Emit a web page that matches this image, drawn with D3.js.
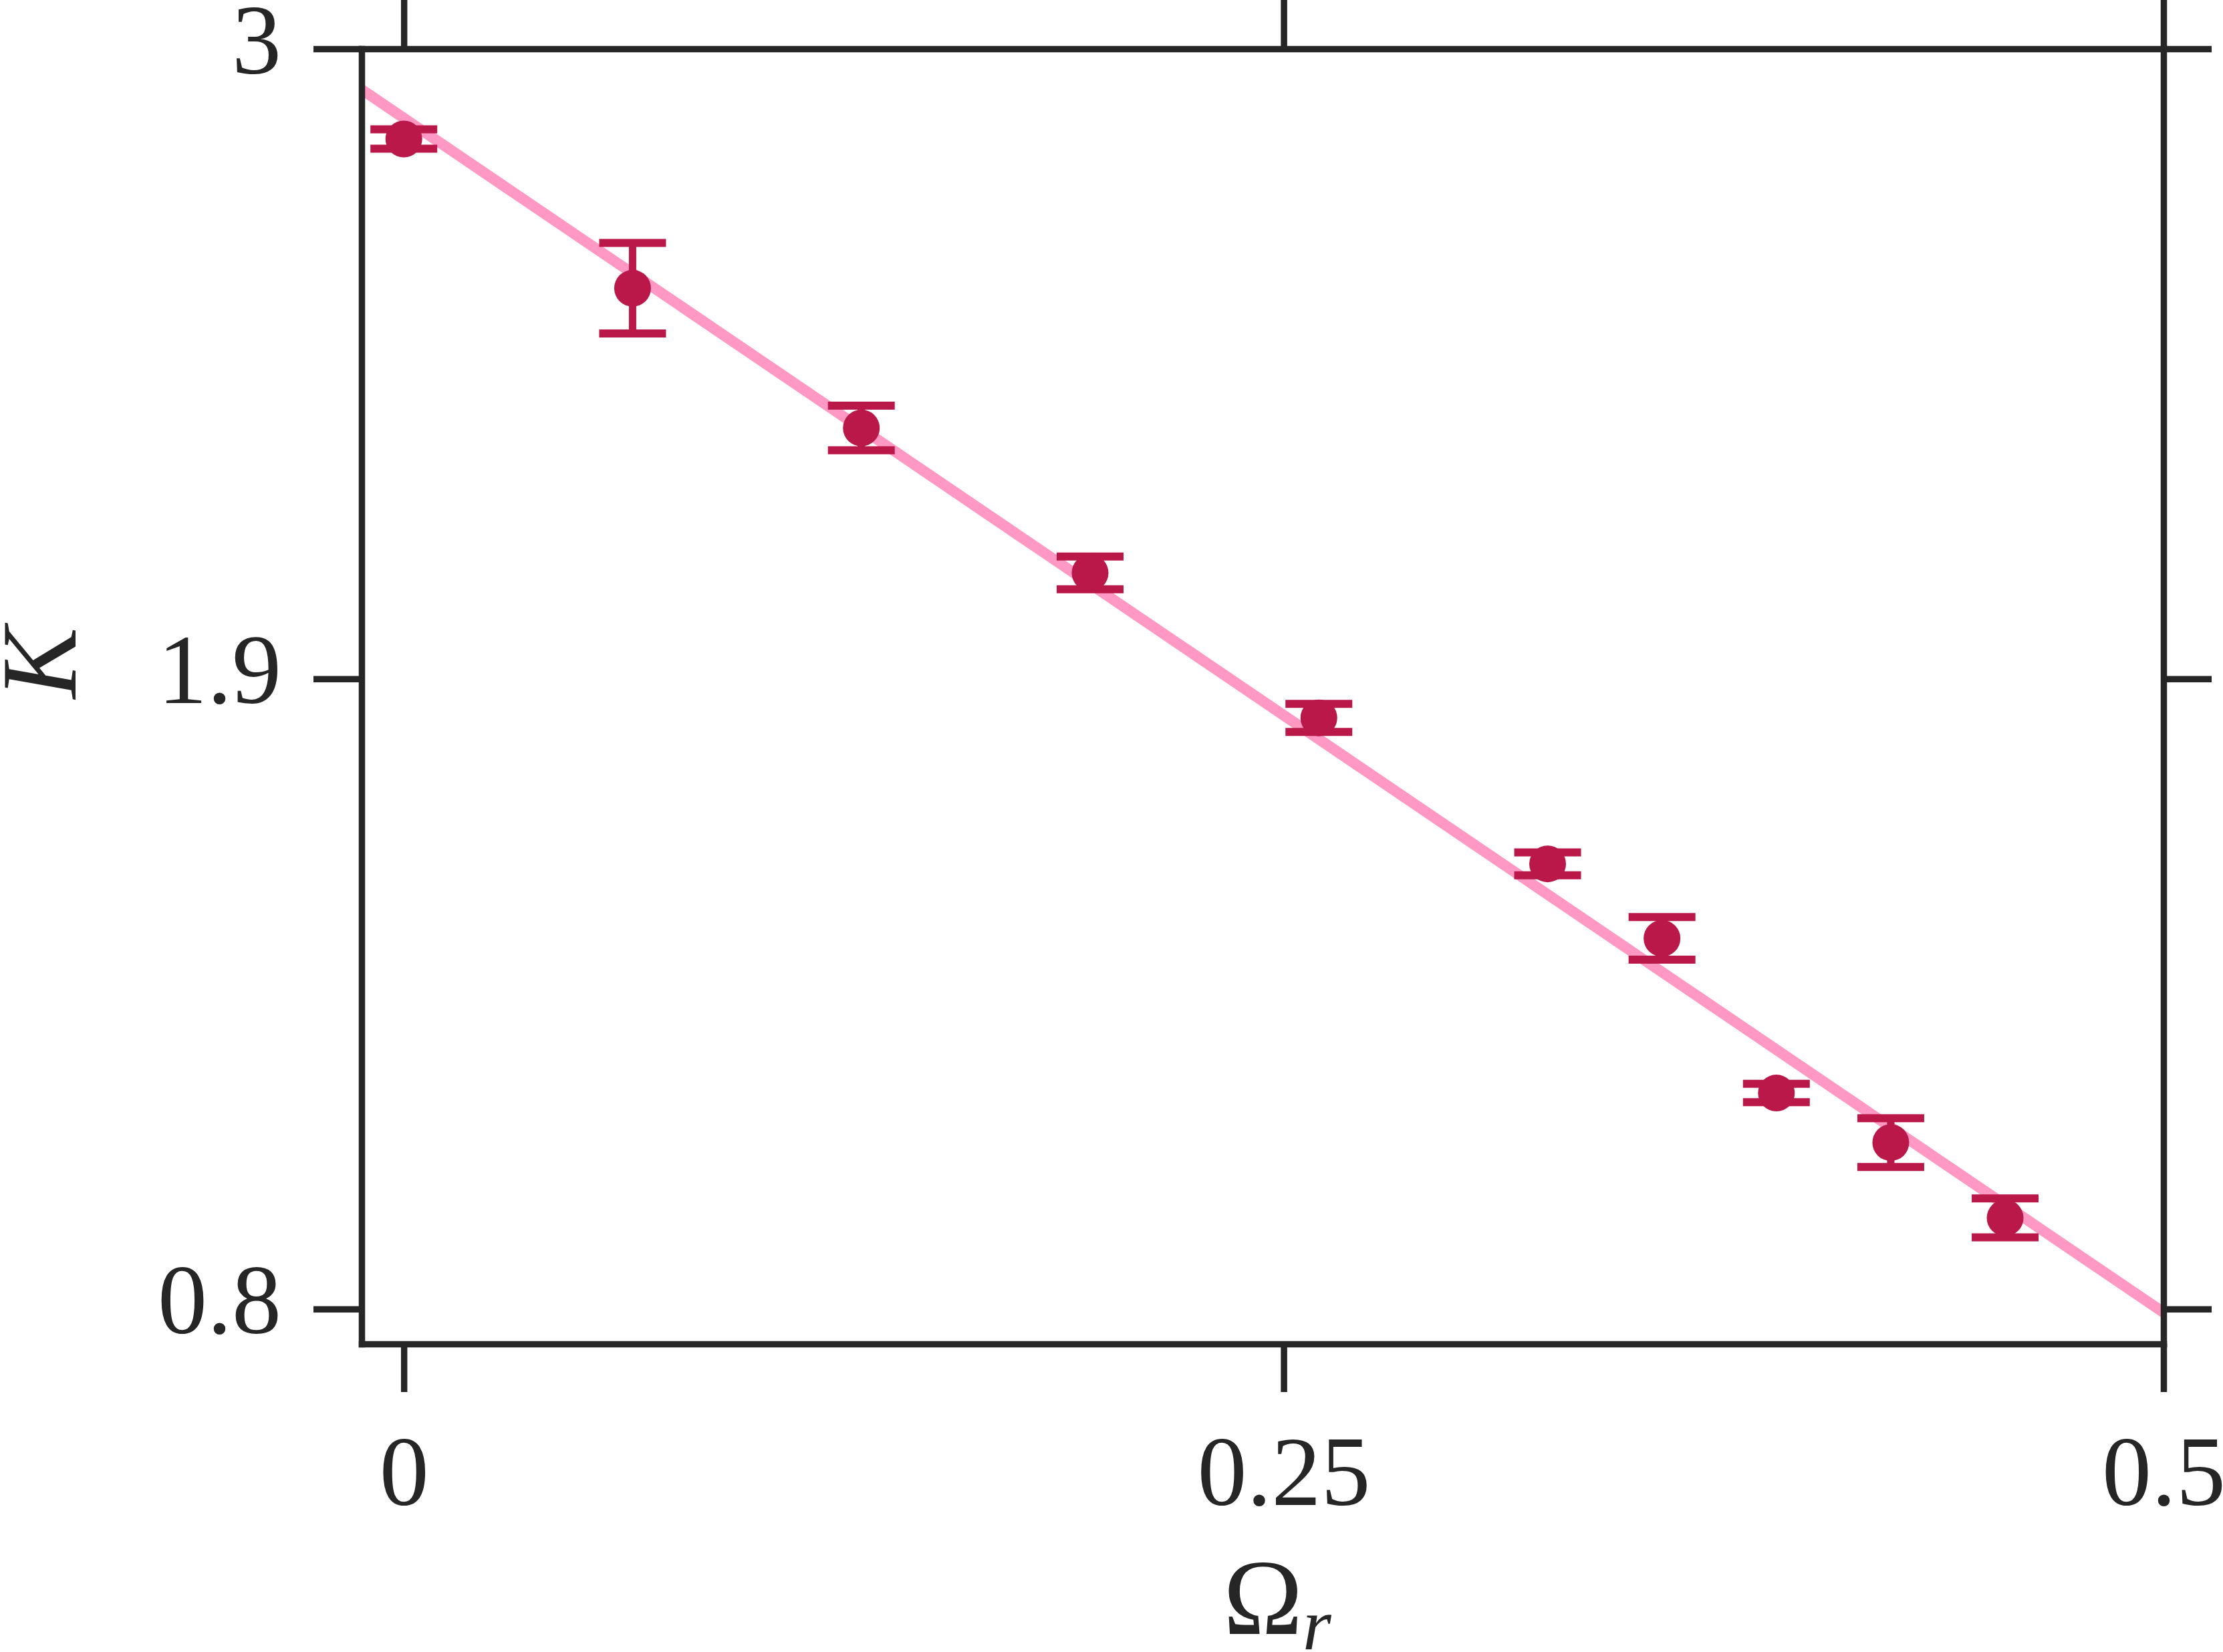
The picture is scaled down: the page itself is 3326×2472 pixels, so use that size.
<!DOCTYPE html>
<html>
<head>
<meta charset="utf-8">
<script src="https://cdn.jsdelivr.net/npm/d3@7"></script>
<style>
  html, body { margin: 0; padding: 0; background: #ffffff; }
  svg { display: block; }
</style>
</head>
<body>
<script>
// ---- data ----
const omega = [0, 0.065, 0.130, 0.195, 0.260, 0.325, 0.3575, 0.390, 0.4225, 0.455];
const kappa = [2.8425, 2.582, 2.338, 2.085, 1.832, 1.577, 1.447, 1.177, 1.0905, 0.959];
const kappaErr = [0.017, 0.079, 0.039, 0.0286, 0.0245, 0.020, 0.0373, 0.016, 0.0426, 0.034];
const fitOmega = [-0.012, 0.5];
const fitKappa = [2.929, 0.794];
const xDomain = [-0.012, 0.5];
const yDomain = [0.739, 3];
const xTicks = [0, 0.25, 0.5];
const xTickLabels = ["0", "0.25", "0.5"];
const yTicks = [0.8, 1.9, 3];
const yTickLabels = ["0.8", "1.9", "3"];
const xLabel = "Ω";
const xLabelSub = "r";
const yLabel = "K";

// ---- layout ----
const W = 3326, H = 2472;
const L = 541, R = 3237, T = 73, B = 2011;
const axisColor = "#262626";
const markerColor = "#BA1848";
const fitColor = "#FF99C4";
const font = "'Liberation Serif', 'DejaVu Serif', serif";

const svg = d3.select("body").append("svg")
  .attr("width", W).attr("height", H)
  .attr("viewBox", `0 0 ${W} ${H}`);
svg.append("rect").attr("width", W).attr("height", H).attr("fill", "#ffffff");

const x = d3.scaleLinear().domain(xDomain).range([L, R]);
const y = d3.scaleLinear().domain(yDomain).range([B, T]);

// clip to plot box
svg.append("clipPath").attr("id", "box")
  .append("rect").attr("x", L).attr("y", T).attr("width", R - L).attr("height", B - T);

// ---- fit line ----
const fitData = fitOmega.map((o, i) => ({ o, k: fitKappa[i] }));
svg.append("path")
  .datum(fitData)
  .attr("clip-path", "url(#box)")
  .attr("fill", "none")
  .attr("stroke", fitColor)
  .attr("stroke-width", 16)
  .attr("d", d3.line().x(d => x(d.o)).y(d => y(d.k)));

// ---- error bars + markers ----
const pts = omega.map((o, i) => ({ o, k: kappa[i], e: kappaErr[i] }));
const g = svg.append("g");
const capW = 100, capT = 12;
g.selectAll("line.stem").data(pts).enter().append("line")
  .attr("class", "stem")
  .attr("x1", d => x(d.o)).attr("x2", d => x(d.o))
  .attr("y1", d => y(d.k + d.e)).attr("y2", d => y(d.k - d.e))
  .attr("stroke", markerColor).attr("stroke-width", 11);
g.selectAll("line.capt").data(pts).enter().append("line")
  .attr("class", "capt")
  .attr("x1", d => x(d.o) - capW / 2).attr("x2", d => x(d.o) + capW / 2)
  .attr("y1", d => y(d.k + d.e)).attr("y2", d => y(d.k + d.e))
  .attr("stroke", markerColor).attr("stroke-width", capT);
g.selectAll("line.capb").data(pts).enter().append("line")
  .attr("class", "capb")
  .attr("x1", d => x(d.o) - capW / 2).attr("x2", d => x(d.o) + capW / 2)
  .attr("y1", d => y(d.k - d.e)).attr("y2", d => y(d.k - d.e))
  .attr("stroke", markerColor).attr("stroke-width", capT);
g.selectAll("circle").data(pts).enter().append("circle")
  .attr("cx", d => x(d.o)).attr("cy", d => y(d.k))
  .attr("r", 27.5).attr("fill", markerColor);

// ---- axes ----
const tickLen = 72;
function styleAxis(sel) {
  sel.selectAll("path.domain").attr("stroke", axisColor).attr("stroke-width", 9.5);
  sel.selectAll(".tick line").attr("stroke", axisColor).attr("stroke-width", 9.5);
}
const xb = svg.append("g").attr("transform", `translate(0,${B})`)
  .call(d3.axisBottom(x).tickValues(xTicks).tickSize(tickLen).tickSizeOuter(0)
    .tickFormat((d, i) => xTickLabels[i]));
styleAxis(xb);
xb.selectAll(".tick text")
  .attr("y", 241).attr("dy", null)
  .attr("font-family", font).attr("font-size", 148).attr("fill", axisColor);

const xt = svg.append("g").attr("transform", `translate(0,${T})`)
  .call(d3.axisTop(x).tickValues(xTicks).tickSize(tickLen + 1).tickSizeOuter(0).tickFormat(""));
styleAxis(xt);

const yl = svg.append("g").attr("transform", `translate(${L},0)`)
  .call(d3.axisLeft(y).tickValues(yTicks).tickSize(tickLen).tickSizeOuter(0)
    .tickFormat((d, i) => yTickLabels[i]));
styleAxis(yl);
yl.selectAll(".tick text")
  .attr("x", -120).attr("dy", null).attr("y", 36)
  .attr("text-anchor", "end")
  .attr("font-family", font).attr("font-size", 148).attr("fill", axisColor);

const yr = svg.append("g").attr("transform", `translate(${R},0)`)
  .call(d3.axisRight(y).tickValues(yTicks).tickSize(tickLen).tickSizeOuter(0).tickFormat(""));
styleAxis(yr);
svg.selectAll(".domain").attr("stroke-linecap", "square");

// ---- axis labels ----
const xl = svg.append("text")
  .attr("x", 1911).attr("y", 2445)
  .attr("text-anchor", "middle")
  .attr("font-family", font).attr("font-size", 160).attr("fill", axisColor);
xl.append("tspan").text(xLabel);
xl.append("tspan").attr("font-style", "italic").attr("font-size", 110).attr("dy", 23).text(xLabelSub);

svg.append("text")
  .attr("transform", `translate(113,992) rotate(-90)`)
  .attr("text-anchor", "middle")
  .attr("font-family", font).attr("font-style", "italic")
  .attr("font-size", 160).attr("fill", axisColor)
  .text(yLabel);
</script>
</body>
</html>
